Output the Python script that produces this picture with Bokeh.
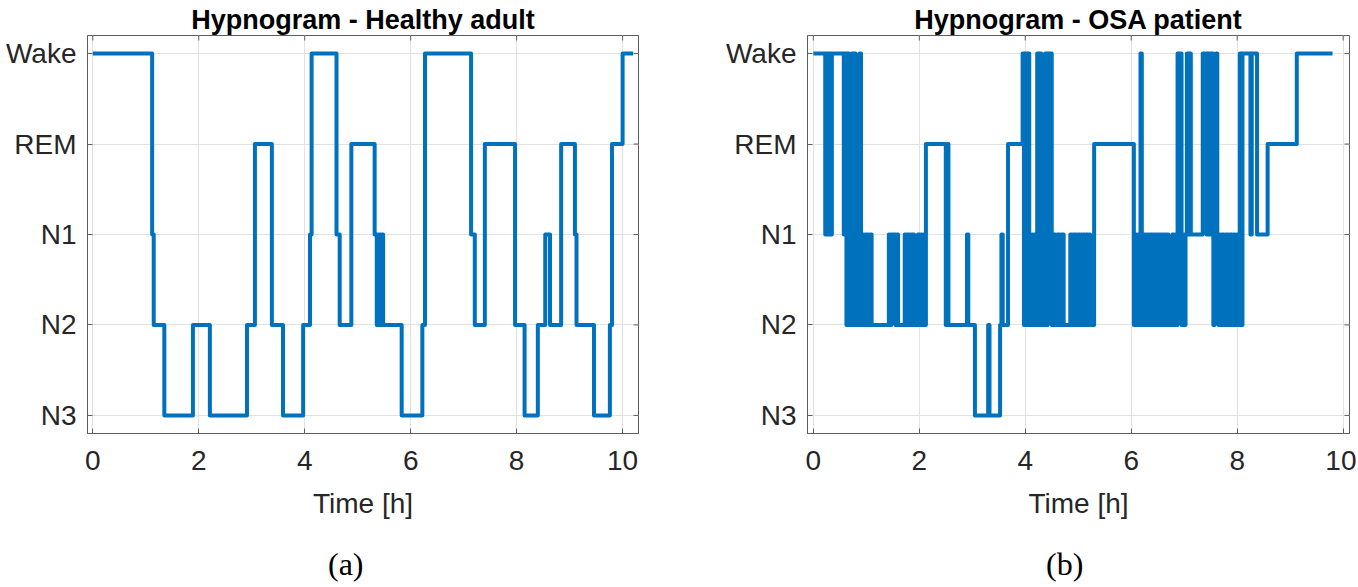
from bokeh.plotting import figure
from bokeh.layouts import row, column
from bokeh.models import FixedTicker, Range1d, Div
from bokeh.embed import file_html
from bokeh.resources import INLINE

# ---------------- data ----------------
stage_names = ["N3", "N2", "N1", "REM", "Wake"]
stage_level = {"N3": 0, "N2": 1, "N1": 2, "REM": 3, "Wake": 4}
x_ticks = [0, 2, 4, 6, 8, 10]
y_ticks = [0, 1, 2, 3, 4]

# (a) healthy adult: stage changes (start time in hours) and stage
healthy_start_h = [0.00, 1.12, 1.15, 1.35, 1.89, 2.21, 2.91, 3.06, 3.38, 3.59,
                   3.97, 4.10, 4.13, 4.60, 4.66, 4.88, 5.32, 5.36, 5.38, 5.40,
                   5.42, 5.44, 5.46, 5.48, 5.83, 6.22, 6.27, 7.14, 7.21, 7.40,
                   7.97, 8.15, 8.40, 8.54, 8.63, 8.84, 9.10, 9.13, 9.46, 9.76,
                   9.80, 10.00]
healthy_stage = ["Wake", "N1", "N2", "N3", "N2", "N3", "N2", "REM", "N2", "N3",
                 "N2", "N1", "Wake", "N1", "N2", "REM", "N1", "N2", "N1", "N2",
                 "N1", "N2", "N1", "N2", "N3", "N2", "Wake", "N1", "N2", "REM",
                 "N2", "N3", "N2", "N1", "N2", "REM", "N1", "N2", "N3", "N2",
                 "REM", "Wake"]
healthy_end_h = 10.20

# (b) OSA patient: one character per 1.5-min epoch, one string per hour
# W = Wake, R = REM, 1 = N1, 2 = N2, 3 = N3
osa_epoch_h = 0.025
osa_code = {"W": "Wake", "R": "REM", "1": "N1", "2": "N2", "3": "N3"}
osa_hours = [
    "WWWWWWWWW" "1W1W1" "WWWWWWWWW" "1W" "2W21W2W21" "2W2121",
    "21212" "222222222222" "1211121" "22222" "12112112" "221",
    "2121" "2" "RRRRRRRRRRRRRRR" "2R" "22222222222222" "1" "222",
    "22" "3333333333" "2" "33333333" "212" "222" "RRRRRRRRRRR" "W2",
    "W2W121212W2W121W2W1W2" "112112112" "2222" "121212",
    "121212121" "222" "RRRRRRRRRRRRRRRRRRRRRRRRRRRR",
    "RR" "21212" "W" "121212" "11212121212121" "2221212W1W21",
    "21W1W" "111111111" "WWW1WW1W" "21W1" "21212121212121",
    "21" "W2" "WWWWWW" "1" "WWWW" "11111111" "RRRRRRRRRRRRRRRRR",
    "RRRRR" "WWWWWWWWWWWWWWWWWWWWWWWWWWW",
]

titles = ["Hypnogram - Healthy adult", "Hypnogram - OSA patient"]
captions = ["(a)", "(b)"]

# ---------------- series ----------------
hx = list(healthy_start_h) + [healthy_end_h]
hy = [stage_level[s] for s in healthy_stage] + [stage_level[healthy_stage[-1]]]

ox, oy = [], []
for hour, epochs in enumerate(osa_hours):
    for i, ch in enumerate(epochs):
        ox.append(hour + i * osa_epoch_h)
        oy.append(stage_level[osa_code[ch]])
ox.append(ox[-1] + osa_epoch_h)
oy.append(oy[-1])

# ---------------- styling ----------------
FONT = "Liberation Sans"
TXT = "#262626"
AX = "#5e5e5e"
GRID = "#e2e2e2"
LINE = "#0072BD"
H = 540
TOP = 35
FRAME_H = 398
Y0, Y1 = -0.2, 4.2


def make_fig(width, bl, br, x0, x1, title, xs, ys):
    p = figure(width=width, height=H, x_range=Range1d(x0, x1),
               y_range=Range1d(Y0, Y1), output_backend="svg",
               toolbar_location=None, min_border_left=bl,
               min_border_right=br, min_border_top=TOP,
               min_border_bottom=H - TOP - FRAME_H)
    p.outline_line_color = AX
    p.outline_line_width = 1
    p.border_fill_color = "white"

    p.title.text = title
    p.title.align = "center"
    p.title.text_font = FONT
    p.title.text_font_size = "27px"
    p.title.text_font_style = "bold"
    p.title.text_color = "#000000"
    p.title.standoff = 2

    p.xaxis.ticker = FixedTicker(ticks=x_ticks)
    p.yaxis.ticker = FixedTicker(ticks=y_ticks)
    p.yaxis.major_label_overrides = {i: n for i, n in enumerate(stage_names)}
    for ax in (p.xaxis[0], p.yaxis[0]):
        ax.major_tick_in = 5
        ax.major_tick_out = 0
        ax.minor_tick_line_color = None
        ax.axis_line_color = AX
        ax.major_tick_line_color = AX
        ax.major_label_text_font = FONT
        ax.major_label_text_font_size = "28px"
        ax.major_label_text_color = TXT
    p.xaxis.major_label_standoff = 17
    p.yaxis.major_label_standoff = 11
    p.xaxis.axis_label = "Time [h]"
    p.xaxis.axis_label_text_font = FONT
    p.xaxis.axis_label_text_font_size = "28px"
    p.xaxis.axis_label_text_font_style = "normal"
    p.xaxis.axis_label_text_color = TXT
    p.xaxis.axis_label_standoff = 15

    # mirrored inward ticks on the top and right edges of the box
    p.ray(x=x_ticks, y=[Y1] * len(x_ticks), length=5, length_units="screen",
          angle=-90, angle_units="deg", line_color=AX, line_width=1)
    p.ray(x=[x1] * len(y_ticks), y=y_ticks, length=5, length_units="screen",
          angle=180, angle_units="deg", line_color=AX, line_width=1)

    p.xgrid.grid_line_color = GRID
    p.ygrid.grid_line_color = GRID

    p.step(xs, ys, mode="after", line_color=LINE, line_width=4,
           line_join="round")
    return p


def caption_div(text, width, pad_left):
    html = ('<div style="padding-left:%dpx;padding-top:8px;'
            'font-family:\'Liberation Serif\';font-size:32px;'
            'line-height:32px;color:#000;white-space:nowrap;">%s</div>'
            % (pad_left, text))
    return Div(text=html, width=width, height=45, margin=0)


W1, W2 = 722, 634
p1 = make_fig(W1, 87, 84, -0.1, 10.3, titles[0], hx, hy)
p2 = make_fig(W2, 85, 7, -0.11, 10.12, titles[1], ox, oy)
d1 = caption_div(captions[0], W1, 328)
d2 = caption_div(captions[1], W2, 324)

layout = column(row(p1, p2), row(d1, d2))
open("out.html", "w").write(file_html(layout, INLINE))
